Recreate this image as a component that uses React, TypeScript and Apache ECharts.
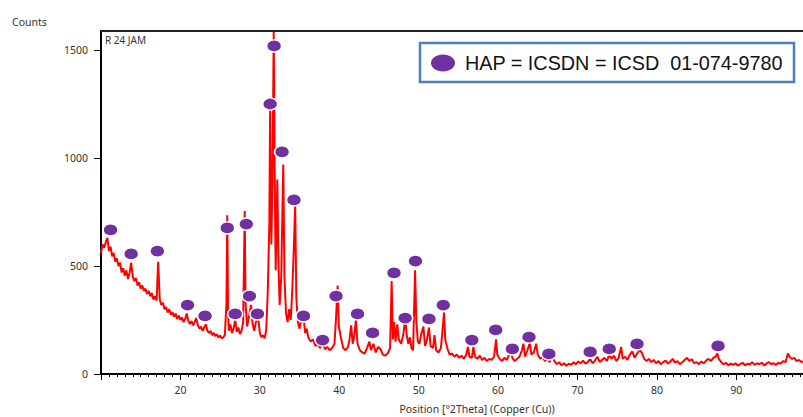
import React, { useEffect, useRef } from "react";
import * as echarts from "echarts";

// XRD pattern: [2theta, counts]
const pattern: [number, number][] = [
  [10.0, 560], [10.2, 600], [10.4, 585], [10.6, 610], [10.8, 630], [11.0, 570], [11.2, 590], [11.4, 545],
  [11.6, 560], [11.8, 520], [12.0, 535], [12.2, 500], [12.4, 515], [12.6, 470], [12.8, 490], [13.0, 455],
  [13.2, 480], [13.4, 440], [13.6, 470], [13.8, 515], [14.0, 450], [14.2, 430], [14.4, 445], [14.6, 410],
  [14.8, 425], [15.0, 395], [15.2, 410], [15.4, 385], [15.6, 395], [15.8, 370], [16.0, 385], [16.2, 360],
  [16.4, 375], [16.6, 345], [16.8, 360], [17.0, 340], [17.2, 520], [17.4, 345], [17.6, 320], [17.8, 330],
  [18.0, 300], [18.2, 310], [18.4, 285], [18.6, 300], [18.8, 275], [19.0, 285], [19.2, 265], [19.4, 280],
  [19.6, 255], [19.8, 270], [20.0, 250], [20.2, 262], [20.4, 240], [20.6, 255], [20.8, 280], [21.0, 245],
  [21.2, 232], [21.4, 245], [21.6, 225], [21.8, 240], [22.0, 260], [22.2, 225], [22.4, 210], [22.6, 220],
  [22.8, 200], [23.0, 215], [23.2, 230], [23.4, 200], [23.6, 190], [23.8, 200], [24.0, 180], [24.2, 190],
  [24.4, 175], [24.6, 185], [24.8, 168], [25.0, 178], [25.2, 165], [25.4, 170], [25.6, 180], [25.8, 330],
  [25.9, 735], [26.0, 300], [26.1, 200], [26.3, 230], [26.5, 190], [26.7, 210], [26.9, 250], [27.1, 195],
  [27.3, 215], [27.5, 185], [27.7, 200], [27.9, 240], [28.1, 755], [28.2, 330], [28.4, 220], [28.6, 260],
  [28.9, 320], [29.1, 230], [29.3, 200], [29.5, 240], [29.8, 260], [30.0, 190], [30.2, 170], [30.4, 180],
  [30.6, 165], [30.8, 200], [31.0, 380], [31.2, 700], [31.3, 1250], [31.45, 600], [31.6, 900], [31.75, 1590],
  [31.9, 800], [32.0, 480], [32.2, 900], [32.35, 500], [32.5, 320], [32.7, 450], [32.95, 970], [33.1, 450],
  [33.3, 280], [33.5, 240], [33.7, 300], [33.9, 250], [34.1, 400], [34.3, 600], [34.45, 780], [34.6, 350],
  [34.8, 240], [35.0, 210], [35.2, 250], [35.5, 270], [35.7, 190], [35.9, 210], [36.1, 170], [36.4, 150],
  [36.7, 160], [37.0, 130], [37.3, 140], [37.6, 120], [37.9, 150], [38.2, 115], [38.5, 125], [38.8, 110],
  [39.1, 120], [39.4, 140], [39.6, 260], [39.8, 410], [39.95, 220], [40.2, 170], [40.5, 120], [40.8, 110],
  [41.1, 125], [41.3, 160], [41.5, 225], [41.7, 140], [41.9, 180], [42.1, 250], [42.3, 140], [42.6, 110],
  [42.9, 100], [43.2, 95], [43.5, 120], [43.8, 150], [44.0, 110], [44.3, 140], [44.6, 100], [44.9, 125],
  [45.2, 115], [45.5, 90], [45.8, 85], [46.1, 95], [46.4, 120], [46.6, 430], [46.75, 160], [46.9, 240],
  [47.1, 150], [47.3, 230], [47.5, 160], [47.8, 140], [48.1, 190], [48.3, 260], [48.5, 180], [48.7, 140],
  [48.9, 170], [49.1, 120], [49.3, 110], [49.55, 480], [49.7, 250], [49.9, 150], [50.1, 140], [50.3, 180],
  [50.6, 220], [50.8, 130], [51.0, 150], [51.3, 215], [51.5, 130], [51.8, 120], [52.0, 180], [52.2, 110],
  [52.5, 100], [52.8, 120], [53.0, 200], [53.2, 285], [53.35, 160], [53.6, 120], [53.9, 90], [54.2, 95],
  [54.5, 80], [54.8, 90], [55.1, 75], [55.4, 85], [55.7, 70], [56.0, 90], [56.2, 125], [56.4, 80],
  [56.7, 75], [56.9, 125], [57.1, 80], [57.4, 70], [57.7, 85], [58.0, 65], [58.3, 75], [58.6, 60],
  [58.9, 70], [59.2, 65], [59.5, 80], [59.75, 160], [59.9, 90], [60.2, 70], [60.5, 60], [60.8, 75],
  [61.1, 65], [61.4, 90], [61.6, 120], [61.8, 75], [62.1, 60], [62.4, 70], [62.7, 80], [63.0, 110],
  [63.2, 140], [63.4, 80], [63.7, 110], [64.0, 145], [64.2, 90], [64.5, 100], [64.8, 140], [65.0, 90],
  [65.3, 70], [65.6, 80], [65.9, 60], [66.2, 70], [66.5, 55], [66.8, 85], [67.1, 60], [67.4, 45],
  [67.7, 55], [68.0, 40], [68.3, 50], [68.6, 38], [68.9, 48], [69.2, 42], [69.5, 55], [69.8, 45],
  [70.1, 58], [70.4, 50], [70.7, 62], [71.0, 48], [71.3, 55], [71.6, 70], [71.9, 50], [72.2, 62],
  [72.5, 80], [72.8, 55], [73.1, 65], [73.4, 75], [73.7, 60], [74.0, 90], [74.3, 70], [74.6, 85],
  [74.9, 60], [75.2, 75], [75.5, 125], [75.7, 70], [76.0, 80], [76.3, 65], [76.6, 90], [76.9, 105],
  [77.2, 75], [77.5, 95], [77.8, 110], [78.1, 100], [78.4, 70], [78.7, 60], [79.0, 70], [79.3, 55],
  [79.6, 65], [79.9, 50], [80.2, 60], [80.5, 45], [80.8, 55], [81.1, 62], [81.4, 48], [81.7, 58],
  [82.0, 70], [82.3, 52], [82.6, 60], [82.9, 45], [83.2, 55], [83.5, 65], [83.8, 75], [84.1, 60],
  [84.4, 68], [84.7, 50], [85.0, 55], [85.3, 45], [85.6, 58], [85.9, 50], [86.2, 62], [86.5, 70],
  [86.8, 60], [87.1, 75], [87.4, 80], [87.6, 95], [87.8, 70], [88.1, 55], [88.4, 45], [88.7, 52],
  [89.0, 40], [89.3, 48], [89.6, 42], [89.9, 50], [90.2, 38], [90.5, 46], [90.8, 52], [91.1, 40],
  [91.4, 48], [91.7, 44], [92.0, 55], [92.3, 42], [92.6, 50], [92.9, 45], [93.2, 52], [93.5, 40],
  [93.8, 48], [94.1, 55], [94.4, 45], [94.7, 50], [95.0, 42], [95.3, 52], [95.6, 48], [95.9, 60],
  [96.2, 55], [96.5, 95], [96.7, 80], [97.0, 70], [97.3, 75], [97.6, 60], [97.9, 65], [98.2, 55],
  [98.4, 60],
];

// HAP reflection markers (2theta, counts at marker)
const hapAngles = [11.2, 13.8, 17.1, 20.9, 23.1, 25.9, 28.3, 26.9, 28.7, 29.7, 31.3, 31.8, 32.8, 34.3, 35.5, 37.9, 39.6,
  42.3, 44.2, 46.9, 48.3, 49.6, 51.3, 53.1, 56.7, 59.7, 61.8, 63.9, 66.4, 71.6, 74.0, 77.5, 87.7];
const hapCounts = [667, 556, 569, 319, 269, 676, 694, 278, 361, 278, 1250, 1519, 1028, 806, 269, 157, 361,
  278, 190, 468, 259, 523, 255, 319, 157, 204, 116, 171, 93, 102, 116, 139, 130];

const yTicks = [0, 500, 1000, 1500];
const legendText = "HAP = ICSDN = ICSD  01-074-9780";
const xTitle = "Position [°2Theta] (Copper (Cu))";
const yTitle = "Counts";
const sampleName = "R 24 JAM";

export default function App() {
  const ref = useRef<HTMLDivElement>(null);
  useEffect(() => {
    if (!ref.current) return;
    const chart = echarts.init(ref.current, undefined, { renderer: "svg" });
    const font = "Noto Sans";
    chart.setOption({
      animation: false,
      backgroundColor: "#ffffff",
      grid: { left: 101, right: 0, top: 31, bottom: 43 },
      xAxis: {
        type: "value",
        min: 10,
        max: 98.4,
        interval: 10,
        axisLine: { show: true, onZero: false, lineStyle: { color: "#000", width: 2 } },
        axisTick: { show: true, length: 6, lineStyle: { color: "#000", width: 1 } },
        minorTick: { show: true, splitNumber: 10, length: 3, lineStyle: { color: "#000", width: 1 } },
        splitLine: { show: false },
        axisLabel: {
          margin: 10,
          color: "#333",
          fontFamily: font,
          fontSize: 10.5,
          showMaxLabel: false,
          formatter: (v: number) => (v === 10 ? "" : String(v)),
        },
      },
      yAxis: {
        type: "value",
        min: 0,
        max: 1588,
        interval: 500,
        axisLine: { show: true, lineStyle: { color: "#000", width: 2 } },
        axisTick: { show: true, length: 7, customValues: yTicks, lineStyle: { color: "#000", width: 1 } },
        splitLine: { show: false },
        axisLabel: {
          margin: 13,
          color: "#333",
          fontFamily: font,
          fontSize: 10.5,
          customValues: yTicks,
          formatter: (v: number) => String(v),
        },
      },
      series: [
        {
          type: "line",
          data: pattern,
          showSymbol: false,
          symbol: "none",
          lineStyle: { color: "#ff0000", width: 2 },
          z: 2,
        },
        {
          type: "scatter",
          data: hapAngles.map((a, i) => [a, hapCounts[i]]),
          symbol: "circle",
          symbolSize: [15, 12],
          itemStyle: { color: "#7030a0", borderColor: "#ffffff", borderWidth: 1.5, opacity: 1 },
          z: 3,
        },
      ],
      graphic: [
        { type: "line", shape: { x1: 100, y1: 31, x2: 803, y2: 31 }, style: { stroke: "#222", lineWidth: 2 }, z: 10 },
        { type: "text", x: 12, y: 22, style: { text: yTitle, fontFamily: font, fontSize: 10.5, fill: "#333", textVerticalAlign: "middle" } },
        { type: "text", x: 105, y: 40, style: { text: sampleName, fontFamily: font, fontSize: 10, fill: "#333", textVerticalAlign: "middle" } },
        { type: "text", x: 477, y: 409, style: { text: xTitle, fontFamily: font, fontSize: 10.5, fill: "#333", textAlign: "center", textVerticalAlign: "middle" } },
        {
          type: "rect",
          shape: { x: 420, y: 43, width: 374, height: 39 },
          style: { fill: "#ffffff", stroke: "#4f7ec0", lineWidth: 2.5 },
          z: 20,
        },
        { type: "ellipse", shape: { cx: 443, cy: 63, rx: 12, ry: 8.5 }, style: { fill: "#7030a0" }, z: 21 },
        {
          type: "text",
          x: 465,
          y: 63,
          style: { text: legendText, fontFamily: "Liberation Sans", fontSize: 19.8, fill: "#111", textVerticalAlign: "middle" },
          z: 21,
        },
      ],
    });
    return () => chart.dispose();
  }, []);
  return <div ref={ref} style={{ width: 803, height: 417, position: "absolute", left: 0, top: 0 }} />;
}
